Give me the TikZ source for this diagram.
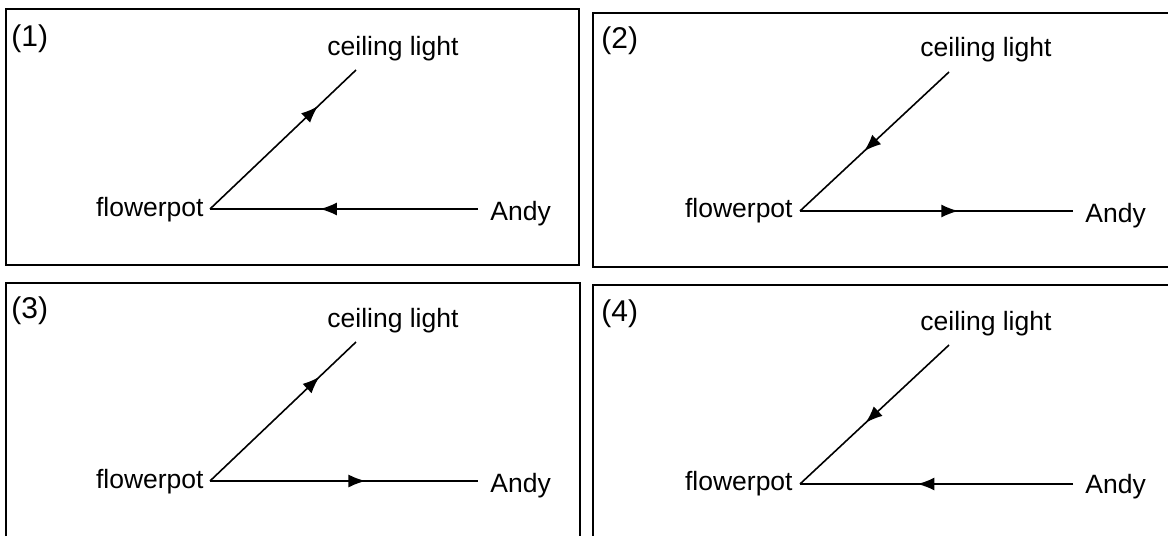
\documentclass[tikz,border=0pt]{standalone}
\usepackage{fontspec}
\setmainfont{Liberation Sans}
\usetikzlibrary{arrows.meta,decorations.markings}
\tikzset{
  panel/.style={line width=1pt, line join=miter},
  ray/.style={line width=0.8pt},
  lbl/.style={inner sep=0pt, font=\fontsize{13.25pt}{15pt}\selectfont},
  numlbl/.style={inner sep=0pt, font=\fontsize{15pt}{17pt}\selectfont},
  midarrow/.style={postaction={decorate}, decoration={markings,
      mark=at position #1 with {\arrow{Latex[length=8.5pt,width=6.5pt]}}}}
}
\begin{document}
\begin{tikzpicture}[x=0.5pt,y=-0.5pt]
\useasboundingbox (0,0) rectangle (1168,536);
% panel frames
\draw[panel] (6,9) rectangle (579,265);
\draw[panel] (1168,13) -- (593,13) -- (593,267) -- (1168,267);
\draw[panel] (6,536) -- (6,283) -- (580,283) -- (580,536);
\draw[panel] (1168,285) -- (593,285) -- (593,536);

% ---------- panel 1 ----------
\node[numlbl, anchor=base west] (n1) at (11,46) {(1)};
\coordinate (A1) at (210,209);
\coordinate (C1) at (356,70);
\coordinate (H1) at (478,209);
\node[lbl, anchor=base west] (cl1) at (327,55) {ceiling light};
\node[lbl, anchor=base east] (fp1) at (204,216) {flowerpot};
\node[lbl, anchor=base west] (an1) at (490,220) {Andy};
\draw[ray, midarrow=0.74] (A1) -- (C1);
\draw[ray, midarrow=0.59] (H1) -- (A1);

% ---------- panel 2 ----------
\node[numlbl, anchor=base west] (n2) at (601,48) {(2)};
\coordinate (A2) at (800,211);
\coordinate (C2) at (949,72);
\coordinate (H2) at (1073,211);
\node[lbl, anchor=base west] (cl2) at (920,56) {ceiling light};
\node[lbl, anchor=base east] (fp2) at (793,217) {flowerpot};
\node[lbl, anchor=base west] (an2) at (1085,222) {Andy};
\draw[ray, midarrow=0.57] (C2) -- (A2);
\draw[ray, midarrow=0.58] (A2) -- (H2);

% ---------- panel 3 ----------
\node[numlbl, anchor=base west] (n3) at (11,318) {(3)};
\coordinate (A3) at (210,481);
\coordinate (C3) at (356,342);
\coordinate (H3) at (478,481);
\node[lbl, anchor=base west] (cl3) at (327,327) {ceiling light};
\node[lbl, anchor=base east] (fp3) at (204,488) {flowerpot};
\node[lbl, anchor=base west] (an3) at (490,492) {Andy};
\draw[ray, midarrow=0.75] (A3) -- (C3);
\draw[ray, midarrow=0.58] (A3) -- (H3);

% ---------- panel 4 ----------
\node[numlbl, anchor=base west] (n4) at (601,321) {(4)};
\coordinate (A4) at (800,484);
\coordinate (C4) at (949,345);
\coordinate (H4) at (1073,484);
\node[lbl, anchor=base west] (cl4) at (920,330) {ceiling light};
\node[lbl, anchor=base east] (fp4) at (793,490) {flowerpot};
\node[lbl, anchor=base west] (an4) at (1085,493) {Andy};
\draw[ray, midarrow=0.56] (C4) -- (A4);
\draw[ray, midarrow=0.57] (H4) -- (A4);
\end{tikzpicture}
\end{document}
